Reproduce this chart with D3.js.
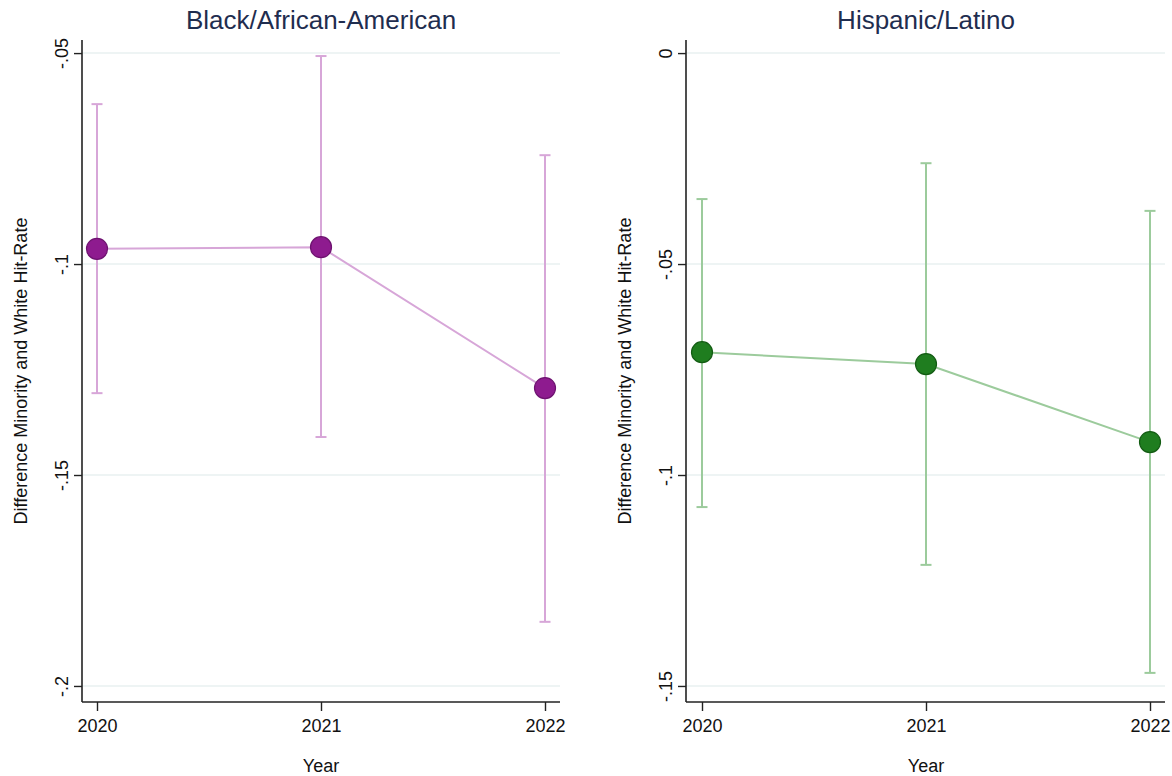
<!DOCTYPE html>
<html>
<head>
<meta charset="utf-8">
<script src="https://cdn.jsdelivr.net/npm/d3@7/dist/d3.min.js"></script>
<style>
  html, body { margin: 0; padding: 0; background: #fff; }
  svg { display: block; font-family: "Liberation Sans", Arial, sans-serif; }
</style>
</head>
<body>
<svg id="chart" width="1172" height="776"></svg>
<script>
// Year categories shared by both panels
const years = [2020, 2021, 2022];

// Black/African-American: estimate and 95% CI bounds
const blackEst = [-0.0964, -0.0960, -0.1294];
const blackLo  = [-0.1306, -0.1410, -0.1848];
const blackHi  = [-0.0621, -0.0507, -0.0742];
const blackTicks = [-0.05, -0.1, -0.15, -0.2];
const blackTickLabels = ["-.05", "-.1", "-.15", "-.2"];

// Hispanic/Latino: estimate and 95% CI bounds
const hispEst = [-0.0709, -0.0737, -0.0922];
const hispLo  = [-0.1076, -0.1213, -0.1469];
const hispHi  = [-0.0346, -0.0261, -0.0374];
const hispTicks = [0, -0.05, -0.1, -0.15];
const hispTickLabels = ["0", "-.05", "-.1", "-.15"];

const svg = d3.select("#chart");

function panel(opts) {
  const g = svg.append("g");
  const { left, right, xFirst, xLast, top, bottom, yDomain } = opts;

  const x = d3.scaleLinear().domain([years[0], years[years.length - 1]]).range([xFirst, xLast]);
  const y = d3.scaleLinear().domain(yDomain).range([bottom, top]);

  // gridlines
  g.append("g").selectAll("line").data(opts.ticks).join("line")
    .attr("x1", left).attr("x2", right)
    .attr("y1", d => y(d)).attr("y2", d => y(d))
    .attr("stroke", "#e8f0f1").attr("stroke-width", 1.5);

  // y axis
  const yAxis = d3.axisLeft(y)
    .tickValues(opts.ticks)
    .tickFormat((d, i) => opts.tickLabels[i])
    .tickSize(8).tickSizeOuter(0).tickPadding(6);
  const ya = g.append("g").attr("transform", `translate(${left},0)`).call(yAxis);
  ya.select(".domain").attr("stroke", "#222").attr("stroke-width", 1.6)
    .attr("d", `M0,${top}V${bottom}`);
  ya.selectAll(".tick line").attr("stroke", "#222").attr("stroke-width", 1.4);
  ya.selectAll(".tick text")
    .attr("font-size", 18).attr("fill", "#111")
    .attr("x", 0).attr("dy", 0)
    .attr("text-anchor", "middle")
    .attr("transform", "translate(-14,0) rotate(-90)");

  // x axis
  const xAxis = d3.axisBottom(x)
    .tickValues(years).tickFormat(d3.format("d"))
    .tickSize(9).tickSizeOuter(0).tickPadding(8);
  const xa = g.append("g").attr("transform", `translate(0,${bottom})`).call(xAxis);
  xa.select(".domain").attr("stroke", "#222").attr("stroke-width", 1.6)
    .attr("d", `M${left},0H${right}`);
  xa.selectAll(".tick line").attr("stroke", "#222").attr("stroke-width", 1.4);
  xa.selectAll(".tick text").attr("font-size", 18).attr("fill", "#111");

  // axis titles
  g.append("text")
    .attr("x", (xFirst + xLast) / 2).attr("y", 772)
    .attr("text-anchor", "middle").attr("font-size", 18).attr("fill", "#111")
    .text("Year");
  g.append("text")
    .attr("transform", `translate(${opts.yTitleX},${(top + bottom) / 2}) rotate(-90)`)
    .attr("text-anchor", "middle").attr("font-size", 18).attr("fill", "#111")
    .text("Difference Minority and White Hit-Rate");

  // panel title
  g.append("text")
    .attr("x", (xFirst + xLast) / 2).attr("y", 29)
    .attr("text-anchor", "middle").attr("font-size", 26).attr("fill", "#1f2d4f")
    .text(opts.title);

  const rows = years.map((yr, i) => ({ yr, est: opts.est[i], lo: opts.lo[i], hi: opts.hi[i] }));

  // confidence intervals with caps
  const ci = g.append("g").attr("stroke", opts.light).attr("stroke-width", 2).attr("fill", "none");
  ci.selectAll("line.v").data(rows).join("line").attr("class", "v")
    .attr("x1", d => x(d.yr)).attr("x2", d => x(d.yr))
    .attr("y1", d => y(d.hi)).attr("y2", d => y(d.lo));
  ci.selectAll("line.hi").data(rows).join("line").attr("class", "hi")
    .attr("x1", d => x(d.yr) - 5.5).attr("x2", d => x(d.yr) + 5.5)
    .attr("y1", d => y(d.hi)).attr("y2", d => y(d.hi));
  ci.selectAll("line.lo").data(rows).join("line").attr("class", "lo")
    .attr("x1", d => x(d.yr) - 5.5).attr("x2", d => x(d.yr) + 5.5)
    .attr("y1", d => y(d.lo)).attr("y2", d => y(d.lo));

  // connecting line
  g.append("path").datum(rows)
    .attr("fill", "none").attr("stroke", opts.light).attr("stroke-width", 2)
    .attr("d", d3.line().x(d => x(d.yr)).y(d => y(d.est)));

  // point estimates
  g.append("g").selectAll("circle").data(rows).join("circle")
    .attr("cx", d => x(d.yr)).attr("cy", d => y(d.est)).attr("r", 10.5)
    .attr("fill", opts.dark).attr("stroke", opts.outline).attr("stroke-width", 1.2);
}

panel({
  title: "Black/African-American",
  left: 82, right: 560, xFirst: 97, xLast: 545, top: 40, bottom: 702,
  yDomain: [-0.2038, -0.0469],
  ticks: blackTicks, tickLabels: blackTickLabels,
  est: blackEst, lo: blackLo, hi: blackHi,
  light: "#d7a6d8", dark: "#8e1b8f", outline: "#6e1270",
  yTitleX: 27
});

panel({
  title: "Hispanic/Latino",
  left: 686, right: 1165, xFirst: 702, xLast: 1150, top: 40, bottom: 702,
  yDomain: [-0.1538, 0.0031],
  ticks: hispTicks, tickLabels: hispTickLabels,
  est: hispEst, lo: hispLo, hi: hispHi,
  light: "#9ccb9c", dark: "#1f7d1f", outline: "#135c13",
  yTitleX: 631
});
</script>
</body>
</html>
